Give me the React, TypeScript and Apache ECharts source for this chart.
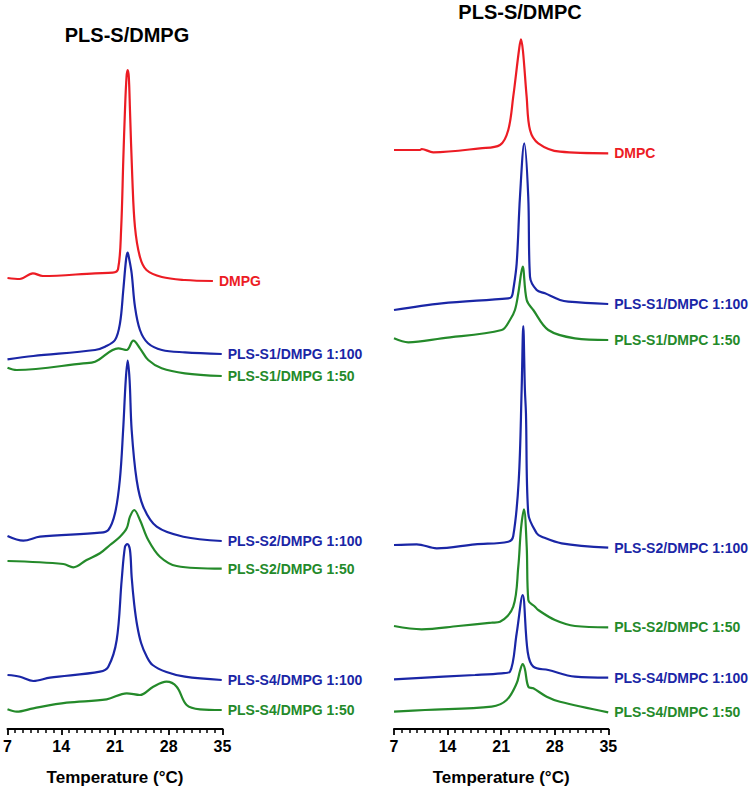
import React, { useEffect, useRef } from "react";
import * as echarts from "echarts";

// Temperature (°C) / heat-flow signal (stacked, arbitrary units)

// ---- PLS-S/DMPG panel ----
const dmpg: number[][] = [
  [7, 451], [8.6, 450], [10.3, 455.7], [11.6, 453], [18.4, 455.7], [20.7, 456.3], [21.4, 460],
  [21.8, 500], [22.08, 569], [22.3, 619], [22.5, 652], [22.65, 659], [22.8, 652], [22.95, 619],
  [23.25, 552], [23.6, 502], [24.25, 472], [25.1, 459], [27.1, 452], [30.1, 449], [33.75, 448],
];
const s1Dmpg100: number[][] = [
  [7, 369.7], [10.36, 373], [18.4, 379], [19.7, 382.3], [21.0, 389], [21.65, 405.7], [22.08, 439],
  [22.45, 470], [22.65, 476.3], [22.85, 470], [23.17, 455.7], [23.6, 422.3], [24.25, 399],
  [25.3, 385.7], [27.1, 379], [30.1, 376.7], [34.9, 375],
];
const s1Dmpg50: number[][] = [
  [7, 361.3], [8.2, 359], [16.87, 365.7], [18.4, 367.3], [21.43, 380.7], [22.52, 379], [23.38, 388.3],
  [24.25, 380.7], [25.33, 369], [27.08, 360.7], [30.1, 355.7], [34.9, 353],
];
const s2Dmpg100: number[][] = [
  [7, 193], [9.06, 188.3], [11.23, 192.3], [19.04, 196.3], [20.13, 199], [21.0, 215.7], [21.63, 249],
  [22.06, 299], [22.4, 349], [22.65, 368.3], [22.9, 349], [23.17, 299], [23.82, 249], [24.68, 222.3],
  [26.43, 202.3], [29.9, 192.3], [34.9, 188],
];
const s2Dmpg50: number[][] = [
  [7, 168], [14.27, 165], [15.57, 161.7], [17.3, 169], [19.04, 175.7], [20.35, 184], [21.65, 192.3],
  [22.52, 200.7], [22.95, 212.3], [23.5, 219], [24.25, 209], [25.33, 189], [26.85, 172.3],
  [29.03, 163], [34.9, 160.3],
];
const s4Dmpg100: number[][] = [
  [7, 54], [8.63, 52.3], [10.36, 48], [12.53, 51.3], [19.04, 57.3], [20.13, 62.3], [21.22, 89],
  [21.87, 149], [22.3, 182.3], [22.6, 185], [22.95, 179], [23.17, 152], [23.5, 125], [23.9, 103],
  [24.4, 86], [25.1, 73], [25.9, 64], [27.7, 57], [30.1, 52.3], [34.9, 49],
];
const s4Dmpg50: number[][] = [
  [7, 19.7], [8.2, 17.3], [10.36, 20.7], [14.71, 26.3], [19.91, 29.7], [22.52, 35.7], [24.25, 34],
  [25.98, 42.3], [27.7, 47.3], [29.03, 42.3], [30.33, 24], [32.07, 19.7], [34.9, 19],
];

// ---- PLS-S/DMPC panel ----
const dmpc: number[][] = [
  [7, 579], [10.4, 579], [10.62, 580], [12.13, 576.7], [18.23, 580.7], [20.85, 584], [21.93, 599],
  [22.58, 632.3], [23.35, 680], [23.59, 689.7], [23.85, 678], [24.33, 632.3], [24.77, 599],
  [25.85, 585.7], [28.69, 577.3], [34.99, 575.7],
];
const s1Dmpc100: number[][] = [
  [7, 419], [13.23, 425.7], [21.93, 430.7], [22.37, 432.3], [22.58, 439], [23.03, 465.7],
  [23.46, 532.3], [24.02, 585.7], [24.54, 532.3], [24.77, 452.3], [25.64, 439], [26.73, 435.7],
  [28.69, 429], [29.77, 427.3], [34.99, 425],
];
const s1Dmpc50: number[][] = [
  [7, 390.7], [8.87, 386.7], [13.23, 390.7], [21.07, 399], [22.15, 409], [22.8, 419], [23.24, 435.7],
  [23.81, 462.3], [24.34, 429], [25.2, 419], [27.16, 399], [30.64, 390.7], [34.99, 389],
];
const s2Dmpc100: number[][] = [
  [7, 184], [9.97, 184.7], [12.58, 180.7], [17.58, 184.7], [21.93, 187.3], [22.58, 193],
  [23.3, 249], [23.68, 340], [23.89, 403], [24.1, 340], [24.24, 315.7], [24.54, 215.7],
  [25.64, 195.7], [26.3, 192.3], [28.9, 185.7], [34.99, 181.3],
];
const s2Dmpc50: number[][] = [
  [7, 103], [10.62, 99.7], [15.4, 103], [19.76, 106.3], [20.85, 107.3], [22.58, 122.3],
  [23.24, 162.3], [23.59, 200], [23.98, 219.7], [24.34, 182.3], [24.55, 129], [25.42, 122.3],
  [25.85, 119], [28.03, 109], [30.64, 103], [34.99, 101.7],
];
const s4Dmpc100: number[][] = [
  [7, 49.7], [17.58, 54], [21.07, 55.7], [22.15, 57.3], [23.03, 95.7], [23.81, 134], [24.47, 77],
  [25.2, 62.3], [27.16, 59], [30.64, 52.3], [34.99, 51.3],
];
const s4Dmpc50: number[][] = [
  [7, 17.3], [11.05, 19], [19.76, 22.3], [21.72, 29], [23.03, 45.7], [23.46, 58], [23.81, 65],
  [24.1, 60], [24.55, 42.3], [25.2, 40.7], [26.95, 32.3], [28.69, 27.3], [34.99, 16.7],
];

const RED = "#ec1c24";
const BLUE = "#1a26a6";
const GREEN = "#248a2a";
const FONT = 'Arial, "Liberation Sans", sans-serif';

function line(name: string, data: number[][], color: string, idx: number) {
  return {
    type: "line",
    name,
    xAxisIndex: idx,
    yAxisIndex: idx,
    data,
    smooth: 0.35,
    symbol: "none",
    clip: false,
    lineStyle: { color, width: 2.2 },
    endLabel: {
      show: true,
      formatter: name,
      color,
      fontWeight: "bold",
      fontSize: 14,
      fontFamily: FONT,
      distance: 6,
    },
  };
}

function xAxis(idx: number) {
  return {
    type: "value",
    gridIndex: idx,
    min: 7,
    max: 35,
    interval: 7,
    name: "Temperature (°C)",
    nameLocation: "middle",
    nameGap: 40,
    nameTextStyle: { fontWeight: "bold", fontSize: 17, color: "#000", fontFamily: FONT },
    axisLine: { show: true, onZero: false, lineStyle: { color: "#000", width: 2 } },
    axisTick: { show: true, length: 6, lineStyle: { color: "#000", width: 1.8 } },
    minorTick: { show: true, splitNumber: 7, length: 4, lineStyle: { color: "#000", width: 1.5 } },
    splitLine: { show: false },
    minorSplitLine: { show: false },
    axisLabel: {
      color: "#000",
      fontWeight: "bold",
      fontSize: 16,
      fontFamily: FONT,
      margin: 9,
    },
  };
}

function yAxis(idx: number) {
  return {
    type: "value",
    gridIndex: idx,
    min: 0,
    max: 700,
    show: false,
  };
}

export default function App() {
  const ref = useRef<HTMLDivElement>(null);
  useEffect(() => {
    if (!ref.current) return;
    const chart = echarts.init(ref.current, undefined, { renderer: "svg" });
    chart.setOption({
      animation: false,
      backgroundColor: "#fff",
      title: [
        {
          text: "PLS-S/DMPG",
          left: 127,
          top: 25,
          padding: 0,
          textAlign: "center",
          textStyle: { fontWeight: "bold", fontSize: 20, color: "#000", fontFamily: FONT },
        },
        {
          text: "PLS-S/DMPC",
          left: 520,
          top: 2,
          padding: 0,
          textAlign: "center",
          textStyle: { fontWeight: "bold", fontSize: 20, color: "#000", fontFamily: FONT },
        },
      ],
      grid: [
        { left: 7.5, right: 755 - 222.5, top: 29, bottom: 62 },
        { left: 394, right: 755 - 608.3, top: 29, bottom: 62 },
      ],
      xAxis: [xAxis(0), xAxis(1)],
      yAxis: [yAxis(0), yAxis(1)],
      series: [
        line("DMPG", dmpg, RED, 0),
        line("PLS-S1/DMPG 1:100", s1Dmpg100, BLUE, 0),
        line("PLS-S1/DMPG 1:50", s1Dmpg50, GREEN, 0),
        line("PLS-S2/DMPG 1:100", s2Dmpg100, BLUE, 0),
        line("PLS-S2/DMPG 1:50", s2Dmpg50, GREEN, 0),
        line("PLS-S4/DMPG 1:100", s4Dmpg100, BLUE, 0),
        line("PLS-S4/DMPG 1:50", s4Dmpg50, GREEN, 0),
        line("DMPC", dmpc, RED, 1),
        line("PLS-S1/DMPC 1:100", s1Dmpc100, BLUE, 1),
        line("PLS-S1/DMPC 1:50", s1Dmpc50, GREEN, 1),
        line("PLS-S2/DMPC 1:100", s2Dmpc100, BLUE, 1),
        line("PLS-S2/DMPC 1:50", s2Dmpc50, GREEN, 1),
        line("PLS-S4/DMPC 1:100", s4Dmpc100, BLUE, 1),
        line("PLS-S4/DMPC 1:50", s4Dmpc50, GREEN, 1),
      ],
    });
    return () => chart.dispose();
  }, []);
  return (
    <div
      ref={ref}
      style={{ position: "absolute", left: 0, top: 0, width: 755, height: 791, background: "#fff" }}
    />
  );
}
